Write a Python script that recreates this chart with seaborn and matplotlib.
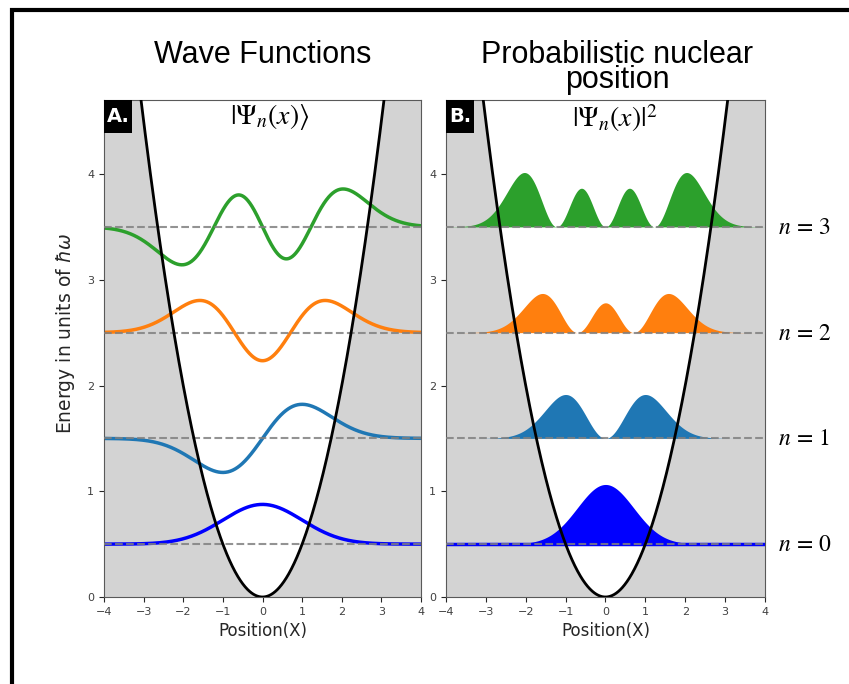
import numpy as np
import pandas as pd
import matplotlib
matplotlib.use("Agg")
import matplotlib.pyplot as plt
import seaborn as sns
from math import factorial
from numpy.polynomial.hermite import hermval
from matplotlib.lines import Line2D
from matplotlib.patches import Rectangle

# levels of the harmonic oscillator shown in the chart
levels = [0, 1, 2, 3]
energies = [0.5, 1.5, 2.5, 3.5]
# relative amplitude of each level (n=3 drawn a bit taller)
amp_scale = [1.0, 1.0, 1.0, 1.22]
level_colors = ["blue", "#1f77b4", "#ff7f0e", "#2ca02c"]
level_labels = [r"$n\,=\,0$", r"$n\,=\,1$", r"$n\,=\,2$", r"$n\,=\,3$"]
psi_scale = 0.5     # wave functions drawn at half size
prob_scale = 1.0
x_ticks = [-4, -3, -2, -1, 0, 1, 2, 3, 4]
y_ticks = [0, 1, 2, 3, 4]

xg = np.linspace(-4, 4, 801)
V = 0.5 * xg ** 2


def psi(n, x):
    c = np.zeros(n + 1)
    c[n] = 1
    return hermval(x, c) * np.exp(-x ** 2 / 2) / np.sqrt(2 ** n * factorial(n)) / np.pi ** 0.25


rows = []
for n, E, a in zip(levels, energies, amp_scale):
    p = a * psi(n, xg)
    rows.append(pd.DataFrame({"x": xg, "n": n, "E": E,
                              "wave": E + psi_scale * p,
                              "prob": E + prob_scale * p ** 2}))
df = pd.concat(rows, ignore_index=True)
palette = dict(zip(levels, level_colors))

sns.set_style("ticks")
plt.rcParams["font.family"] = ["DejaVu Sans"]
plt.rcParams["mathtext.fontset"] = "stix"

fig = plt.figure(figsize=(8.49, 6.84), dpi=100)
axA = fig.add_axes([0.1225, 0.1272, 0.3734, 0.7266])
axB = fig.add_axes([0.5253, 0.1272, 0.3757, 0.7266])

for ax in (axA, axB):
    ax.set_facecolor("lightgray")
    ax.fill_between(xg, V, 6, color="white", lw=0, zorder=0)

sns.lineplot(data=df, x="x", y="wave", hue="n", palette=palette, lw=2.5,
             legend=False, ax=axA, zorder=2)

for n, c in zip(levels, level_colors):
    d = df[df["n"] == n]
    axB.fill_between(d["x"], d["E"], d["prob"], color=c, lw=0, zorder=2)
sns.lineplot(x=xg, y=np.full_like(xg, energies[0]), color=level_colors[0], lw=2.5, ax=axB, zorder=2)

for ax in (axA, axB):
    for E in energies:
        ax.axhline(E, ls="--", color="gray", lw=1.5, alpha=0.85, zorder=3)
    sns.lineplot(x=xg, y=V, color="black", lw=2, ax=ax, zorder=4)
    ax.set_xlim(-4, 4)
    ax.set_ylim(0, 4.7)
    ax.set_xticks(x_ticks)
    ax.set_yticks(y_ticks)
    ax.tick_params(labelsize=8, length=3.5, width=0.8, labelcolor="0.25")
    ax.set_xlabel("Position(X)", fontsize=12, color="0.15")
    ax.set_ylabel("")
    for s in ax.spines.values():
        s.set_color("0.35")

axA.set_ylabel(r"Energy in units of $\hbar\omega$", fontsize=13.5, color="0.15",
               math_fontfamily="dejavusans")
axA.yaxis.set_label_coords(-0.085, 0.53)

axA.text(0.5, 1.121, "Wave Functions", transform=axA.transAxes, ha="center", va="top",
         fontsize=22, family="Liberation Sans", color="black")
axB.text(0.536, 1.121, "Probabilistic nuclear\nposition", transform=axB.transAxes,
         ha="center", va="top", fontsize=22, family="Liberation Sans", color="black",
         linespacing=0.78)

axA.text(0.524, 0.996, r"$|\Psi_n(x)\rangle$", transform=axA.transAxes, ha="center",
         va="top", fontsize=20, color="black")
axB.text(0.53, 0.996, r"$|\Psi_n(x)|^2$", transform=axB.transAxes, ha="center",
         va="top", fontsize=20, color="black")

for ax, lab in ((axA, "A."), (axB, "B.")):
    bw = 28 / (ax.get_position().width * 849)
    bh = 33 / (ax.get_position().height * 684)
    ax.add_patch(Rectangle((0, 1 - bh), bw, bh, transform=ax.transAxes,
                           facecolor="black", edgecolor="none", zorder=6, clip_on=False))
    ax.text(bw / 2, 1 - bh / 2, lab, transform=ax.transAxes, ha="center", va="center",
            color="white", fontsize=14, fontweight="bold", zorder=7)

for E, lab in zip(energies, level_labels):
    axB.text(4.33, E, lab, ha="left", va="center", fontsize=17, color="black", clip_on=False)

# frame lines of the original figure
fig.add_artist(Line2D([0.0141, 0.0141, 1.0], [0.0, 0.9854, 0.9854],
                      transform=fig.transFigure, color="black", lw=3,
                      solid_joinstyle="miter"))

fig.savefig("out.png", dpi=100)
